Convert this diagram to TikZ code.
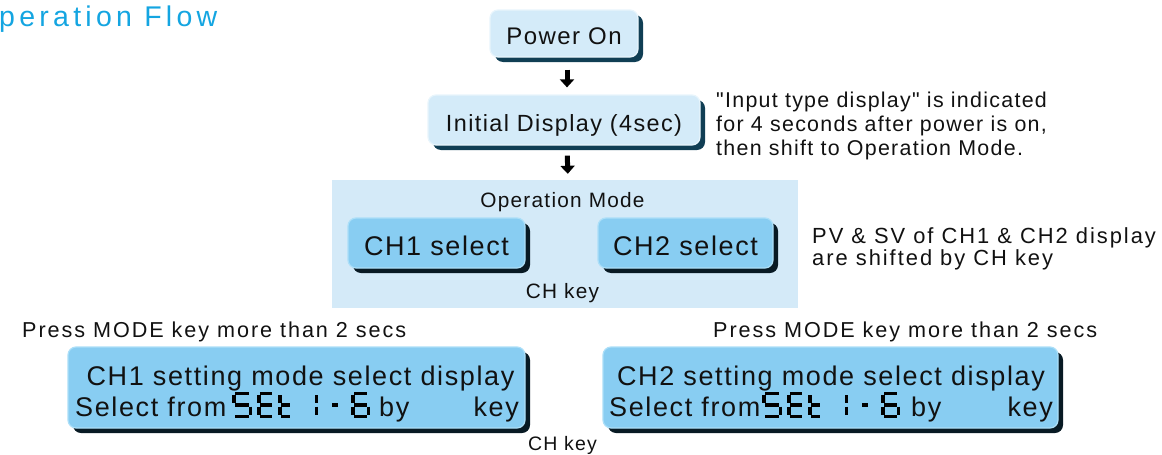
\documentclass[tikz,border=0pt]{standalone}
\usepackage{fontspec}
\setmainfont{Liberation Sans}[LetterSpace=6]
\newfontfamily\titlefont{Liberation Sans}[LetterSpace=15]
\newfontfamily\widefont{Liberation Sans}[LetterSpace=9]
\newfontfamily\plainq{Liberation Sans}[LetterSpace=6, Ligatures=TeXOff]
\usetikzlibrary{shadows,arrows.meta}
\definecolor{titlecol}{RGB}{20,165,225}
\definecolor{lightface}{RGB}{212,235,249}
\definecolor{lightedge}{RGB}{232,245,252}
\definecolor{lightshadow}{RGB}{16,62,84}
\definecolor{medface}{RGB}{136,205,242}
\definecolor{mededge}{RGB}{172,223,248}
\definecolor{medshadow}{RGB}{8,26,36}
\definecolor{panelcol}{RGB}{212,234,248}
\definecolor{txt}{RGB}{17,17,17}
\newcommand\fPow{\fontsize{24}{28}\selectfont}
\newcommand\fIni{\fontsize{23.4}{28}\selectfont}
\newcommand\fBig{\fontsize{27}{32}\selectfont}
\newcommand\fMid{\fontsize{20.8}{25}\selectfont}
\newcommand\fSide{\plainq\fontsize{21.4}{25}\selectfont}
\newcommand\fPress{\widefont\fontsize{21.6}{26}\selectfont}
\newcommand\fPV{\widefont\fontsize{21.9}{25}\selectfont}
\def\sh{23}
\def\sg{1.6}
\newcommand\segA{\draw[segline] (\sg,0) -- (\sw-\sg,0);}
\newcommand\segB{\draw[segline] (\sw,\sg) -- (\sw,\sh/2-\sg);}
\newcommand\segC{\draw[segline] (\sw,\sh/2+\sg) -- (\sw,\sh-\sg);}
\newcommand\segD{\draw[segline] (\sg,\sh) -- (\sw-\sg,\sh);}
\newcommand\segE{\draw[segline] (0,\sh/2+\sg) -- (0,\sh-\sg);}
\newcommand\segF{\draw[segline] (0,\sg) -- (0,\sh/2-\sg);}
\newcommand\segG{\draw[segline] (\sg,\sh/2) -- (\sw-\sg,\sh/2);}
\newcommand\sdig[3]{\begin{scope}[shift={(#1,393.5)}]\def\sw{#2}#3\end{scope}}
\newcommand\setglyphs{%
  \sdig{233.8}{16.6}{\segA\segF\segG\segC\segD}%
  \sdig{258.8}{14.6}{\segA\segF\segG\segE\segD}%
  \sdig{279.8}{11.6}{\segF\segE\segG\segD}%
  \sdig{316.5}{0}{\segB\segC}%
  \sdig{330.4}{9.2}{\segG}%
  \sdig{352.8}{15.6}{\segA\segF\segG\segE\segD\segC}%
}
\begin{document}
\begin{tikzpicture}[x=1pt,y=-1pt,
  lightbox/.style={rounded corners=8pt, fill=lightface, draw=lightedge, line width=1.2pt,
    general shadow={fill=lightshadow, shadow xshift=5pt, shadow yshift=-5pt},
    inner sep=0pt, text depth=0pt, text=txt},
  medbox/.style={rounded corners=8pt, fill=medface, draw=mededge, line width=1.2pt,
    general shadow={fill=medshadow, shadow xshift=5pt, shadow yshift=-5pt},
    inner sep=0pt, text depth=0pt, text=txt},
  panel/.style={fill=panelcol, draw=none, inner sep=0pt},
  lbl/.style={inner sep=0pt, text=txt},
  bigarrow/.style={line width=5pt, draw=black, -{Triangle[width=14pt,length=8pt]}},
  segline/.style={line width=3.6pt, draw=black, line cap=butt}
]
\useasboundingbox (0,0) rectangle (1162,455);

% title
\node[lbl, anchor=base west, text=titlecol, font=\titlefont\fontsize{28.5}{32}\selectfont] (title) at (-1,27) {peration Flow};

% top boxes
\node[lightbox, minimum width=148pt, minimum height=47pt, text height=21pt, font=\fPow] (pw) at (564,33.5) {Power On};
\node[lightbox, minimum width=272pt, minimum height=50pt, text height=23pt, font=\fIni] (ini) at (564,120) {Initial Display (4sec)};

% side notes
\node[lbl, anchor=base west, font=\fSide] (side1) at (716,107) {"Input type display" is indicated};
\node[lbl, anchor=base west, font=\fSide] (side2) at (716,131) {for 4 seconds after power is on,};
\node[lbl, anchor=base west, font=\fSide] (side3) at (716,155) {then shift to Operation Mode.};

% operation mode panel
\node[panel, minimum width=466pt, minimum height=128pt] (op) at (565,244) {};
\node[lbl, anchor=base, font=\fMid] (opmode) at (562.5,207) {Operation Mode};
\node[lbl, anchor=base, font=\fMid] (chkey1) at (562.5,298) {CH key};
\node[medbox, minimum width=177pt, minimum height=50pt, text height=24pt, font=\fBig] (ch1) at (436.5,243) {CH1 select};
\node[medbox, minimum width=175pt, minimum height=50pt, text height=24pt, font=\fBig] (ch2) at (685.5,243) {CH2 select};

\node[lbl, anchor=base west, font=\fPV] (pv1) at (812,243) {PV \& SV of CH1 \& CH2 display};
\node[lbl, anchor=base west, font=\fPV] (pv2) at (812,265) {are shifted by CH key};

% arrows
\draw[bigarrow, shorten <=12pt, shorten >=7pt] ([xshift=3pt]pw.south) -- ([xshift=3pt]ini.north);
\draw[bigarrow, shorten <=10pt, shorten >=6pt] ([xshift=3pt]ini.south) -- ([xshift=3pt]op.north);

% press mode labels
\node[lbl, anchor=base west, font=\fPress] (press1) at (22,337) {Press MODE key more than 2 secs};
\node[lbl, anchor=base west, font=\fPress] (press2) at (713,337) {Press MODE key more than 2 secs};

% setting boxes
\node[medbox, minimum width=457pt, minimum height=81pt] (set1) at (296.5,387.5) {};
\node[medbox, minimum width=455pt, minimum height=81pt] (set2) at (830.5,387.5) {};

\node[lbl, anchor=base, font=\fBig] (s1a) at (300.5,385) {CH1 setting mode select display};
\node[lbl, anchor=base west, font=\fBig] (s1b) at (75,416) {Select from};
\node[lbl, anchor=base west, font=\fBig] (s1c) at (379,416) {by};
\node[lbl, anchor=base east, font=\fBig] (s1d) at (519,416) {key};
\setglyphs

\node[lbl, anchor=base, font=\fBig] (s2a) at (831,385) {CH2 setting mode select display};
\node[lbl, anchor=base west, font=\fBig] (s2b) at (609,416) {Select from};
\node[lbl, anchor=base west, font=\fBig] (s2c) at (911,416) {by};
\node[lbl, anchor=base east, font=\fBig] (s2d) at (1053,416) {key};
\begin{scope}[shift={(530,0)}]
\setglyphs
\end{scope}

\node[lbl, anchor=base, font=\fontsize{19.5}{23}\selectfont] (chkey2) at (562.5,450) {CH key};
\end{tikzpicture}
\end{document}
